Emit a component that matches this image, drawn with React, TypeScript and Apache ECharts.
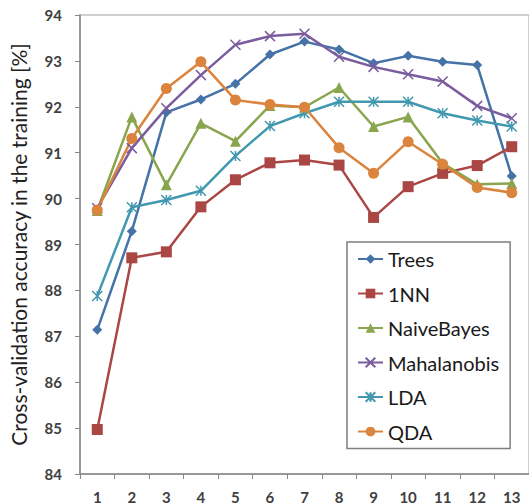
import React, { useEffect, useRef } from "react";
import * as echarts from "echarts";

const categories = ["1", "2", "3", "4", "5", "6", "7", "8", "9", "10", "11", "12", "13"];
const trees = [87.14, 89.29, 91.88, 92.16, 92.5, 93.14, 93.42, 93.25, 92.95, 93.11, 92.98, 92.91, 90.49];
const nn1 = [84.97, 88.71, 88.84, 89.82, 90.41, 90.78, 90.84, 90.73, 89.59, 90.26, 90.55, 90.72, 91.13];
const naiveBayes = [89.74, 91.78, 90.3, 91.64, 91.25, 92.03, 91.99, 92.42, 91.57, 91.78, 90.77, 90.31, 90.33];
const mahalanobis = [89.79, 91.1, 91.97, 92.69, 93.35, 93.54, 93.59, 93.09, 92.87, 92.71, 92.55, 92.02, 91.75];
const lda = [87.88, 89.81, 89.97, 90.17, 90.93, 91.58, 91.86, 92.11, 92.11, 92.11, 91.86, 91.7, 91.57];
const qda = [89.75, 91.31, 92.4, 92.98, 92.15, 92.05, 91.99, 91.11, 90.55, 91.24, 90.75, 90.24, 90.13];

const FONT = "Lato";

export default function App() {
  const ref = useRef<HTMLDivElement>(null);
  useEffect(() => {
    if (!ref.current) return;
    const chart = echarts.init(ref.current, null, { renderer: "svg" });
    const mk = (name: string, data: number[], color: string, symbol: string, size: number, border = 0) => ({
      name,
      type: "line",
      data,
      symbol,
      symbolSize: size,
      lineStyle: { color, width: 2.5 },
      itemStyle: { color, borderColor: color, borderWidth: border },
      emphasis: { disabled: true },
    });
    chart.setOption({
      animation: false,
      grid: {
        left: 73,
        top: 15,
        right: -5.5,
        bottom: 30,
        show: true,
        borderColor: "#c0c0c0",
        borderWidth: 1.5,
      },
      xAxis: {
        type: "category",
        data: categories,
        boundaryGap: true,
        axisLine: { lineStyle: { color: "#868686", width: 1.5 } },
        axisTick: { show: true, length: 5, lineStyle: { color: "#868686" } },
        axisLabel: { color: "#404040", fontSize: 15, fontWeight: "bold", fontFamily: FONT, margin: 15 },
        splitLine: { show: false },
      },
      yAxis: {
        type: "value",
        min: 84,
        max: 94,
        interval: 1,
        name: "Cross-validation accuracy in the training [%]",
        nameLocation: "middle",
        nameGap: 51,
        nameTextStyle: { color: "#222", fontSize: 21, fontFamily: FONT },
        axisLine: { show: true, lineStyle: { color: "#868686", width: 1.5 } },
        axisTick: { show: true, length: 5, lineStyle: { color: "#868686" } },
        axisLabel: { color: "#404040", fontSize: 15, fontWeight: "bold", fontFamily: FONT, margin: 18 },
        splitLine: { show: false },
      },
      legend: {
        orient: "vertical",
        left: 347,
        top: 242,
        padding: [7, 11, 7, 10],
        itemGap: 14.5,
        itemWidth: 25,
        itemHeight: 12,
        borderColor: "#7f7f7f",
        borderWidth: 1.5,
        textStyle: { color: "#1a1a1a", fontSize: 20, fontFamily: FONT },
        data: ["Trees", "1NN", "NaiveBayes", "Mahalanobis", "LDA", "QDA"],
      },
      series: [
        mk("Trees", trees, "#4572A7", "diamond", 10),
        mk("1NN", nn1, "#AA4643", "rect", 11),
        mk("NaiveBayes", naiveBayes, "#89A54E", "triangle", 11),
        mk("Mahalanobis", mahalanobis, "#7B5C9E", "path://M0,0L10,10M10,0L0,10", 10, 1.5),
        mk("LDA", lda, "#4198AF", "path://M5,0L5,10M0,0L10,10M10,0L0,10", 10, 1.5),
        mk("QDA", qda, "#DB843D", "circle", 11),
      ],
    });
    return () => chart.dispose();
  }, []);
  return (
    <div style={{ position: "absolute", left: 0, top: 0, width: 529, height: 504, overflow: "hidden", background: "#fff" }}>
      <div ref={ref} style={{ width: 529, height: 504 }} />
    </div>
  );
}
